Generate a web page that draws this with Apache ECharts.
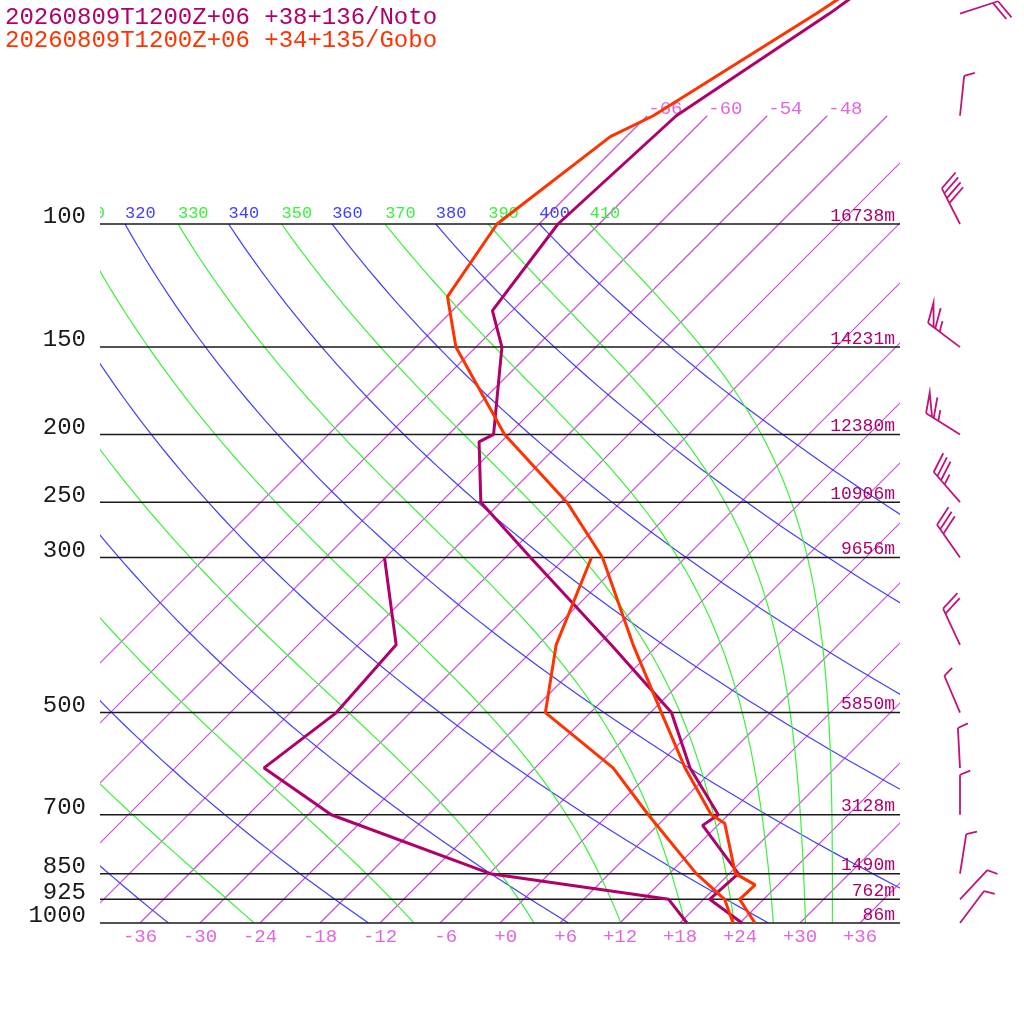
<!DOCTYPE html>
<html>
<head>
<meta charset="utf-8">
<title>Skew-T</title>
<script src="https://cdn.jsdelivr.net/npm/echarts@6.0.0/dist/echarts.min.js"></script>
<style>
html, body { margin: 0; padding: 0; background: #fff; }
#chart { width: 1024px; height: 1024px; }
</style>
</head>
<body>
<div id="chart"></div>
<script>
// Noto (+38+136): temperature and dew point (hPa, degC)
var notoP  = [1000, 925, 850, 725, 700, 600, 500, 400, 300, 250, 205, 200, 150, 133, 100, 70, 50, 30];
var notoT  = [24.2, 18.6, 18.9, 10.5, 11.0, 3.5, -3.9, -16.7, -33.5, -44.0, -50.2, -49.5, -57.4, -62.0, -64.1, -63.1, -58.0, -52.0];
var notoDP = [1000, 925, 850, 700, 600, 500, 400, 300];
var notoTd = [18.7, 14.5, -5.9, -27.7, -39.1, -37.4, -38.2, -48.1];

// Gobo (+34+135)
var goboP  = [1000, 925, 882, 850, 720, 700, 600, 500, 400, 300, 250, 200, 150, 127, 100, 75, 70, 50, 30];
var goboT  = [25.5, 21.6, 21.7, 18.6, 12.5, 10.3, 3.0, -4.9, -14.5, -26.3, -35.4, -48.4, -62.0, -67.9, -70.2, -67.6, -65.4, -59.3, -51.5];
var goboDP = [1000, 925, 850, 700, 600, 500, 400, 300];
var goboTd = [23.3, 20.1, 14.7, 4.0, -4.2, -16.5, -22.2, -27.4];

// Noto winds: direction (deg), speed (kt)
var windP   = [50, 70, 100, 150, 200, 250, 300, 400, 500, 600, 700, 850, 925, 1000];
var windDir = [72, 6, 333, 307, 302, 319, 325, 335, 337, 357, 0, 9, 43, 37];
var windSpd = [20, 5, 40, 65, 65, 35, 30, 20, 5, 5, 5, 5, 5, 5];

// isobars and heights
var isobars = [100, 150, 200, 250, 300, 500, 700, 850, 925, 1000];
var heights = ['16738m', '14231m', '12380m', '10906m', '9656m', '5850m', '3128m', '1490m', '762m', '86m'];

// background lines
var isotherms = [-66, -60, -54, -48, -42, -36, -30, -24, -18, -12, -6, 0, 6, 12, 18, 24, 30, 36];
var isothermLabels = [-66, -60, -54, -48];
var dryThetas = [220, 240, 260, 280, 300, 320, 340, 360, 380, 400];
var moistThetas = [250, 270, 290, 310, 330, 350, 370, 390, 410];
var tempTicks = [-36, -30, -24, -18, -12, -6, 0, 6, 12, 18, 24, 30, 36];

var notoColor = '#b0006a';
var goboColor = '#ff3300';
var mono = '"Liberation Mono", monospace';

var skew = 69.9;
function skewX(t, p) { return t + skew * Math.log10(1000 / p); }

function thetaE(tk, p) {
    var tc = tk - 273.15;
    var es = 6.112 * Math.exp(17.67 * tc / (tc + 243.5));
    if (es > 0.5 * p) return 1e9;
    var r = 622 * es / (p - es);
    return tk * Math.pow(1000 / p, 0.2854 * (1 - 0.00028 * r)) *
        Math.exp((3.376 / tk - 0.00254) * r * (1 + 0.00081 * r));
}
function moistT(te, p) {
    var lo = 80, hi = 340;
    for (var i = 0; i < 50; i++) {
        var mid = (lo + hi) / 2;
        if (thetaE(mid, p) > te) hi = mid; else lo = mid;
    }
    return (lo + hi) / 2 - 273.15;
}

// pressure samples between 1000 and 100 hPa
var levels = [];
for (var i = 0; i <= 60; i++) levels.push(1000 * Math.pow(0.1, i / 60));

function profile(ps, ts) {
    return ps.map(function (p, i) { return [skewX(ts[i], p), p]; });
}

function adiabatItem(api, temps, color) {
    var pts = levels.map(function (p, i) { return api.coord([skewX(temps[i], p), p]); });
    var start = pts[pts.length - 1];
    return {
        type: 'group',
        children: [
            { type: 'polyline', shape: { points: pts }, style: { stroke: color, lineWidth: 1.2, fill: null } },
            { type: 'text', x: start[0], y: start[1] - 11,
              style: { text: String(api.value(2)), fill: color, font: '17px ' + mono, align: 'left', verticalAlign: 'middle' } }
        ]
    };
}

function barb(api) {
    var p = api.value(1), dir = api.value(2), spd = api.value(3);
    var base = api.coord([46, p]);
    var rad = dir * Math.PI / 180;
    var ux = Math.sin(rad), uy = -Math.cos(rad);
    var a = 68 * Math.PI / 180;
    var bx = ux * Math.cos(a) - uy * Math.sin(a);
    var by = ux * Math.sin(a) + uy * Math.cos(a);
    var L = 40, full = 21, half = 11, gap = 5.5, flagW = 7;
    function at(d) { return [base[0] + ux * d, base[1] + uy * d]; }
    function out(pt, len) { return [pt[0] + bx * len, pt[1] + by * len]; }
    var style = { stroke: '#c0147a', lineWidth: 1.8, fill: null };
    var kids = [{ type: 'polyline', shape: { points: [base, at(L)] }, style: style }];
    var n50 = Math.floor(spd / 50);
    var n10 = Math.floor((spd - 50 * n50) / 10);
    var n5 = Math.round((spd - 50 * n50 - 10 * n10) / 5);
    var s = L, k;
    for (k = 0; k < n50; k++) {
        kids.push({ type: 'polyline', shape: { points: [at(s), out(at(s), full), at(s - flagW)] }, style: style });
        s -= flagW + 2;
    }
    for (k = 0; k < n10; k++) {
        kids.push({ type: 'polyline', shape: { points: [at(s), out(at(s), full)] }, style: style });
        s -= gap;
    }
    for (k = 0; k < n5; k++) {
        kids.push({ type: 'polyline', shape: { points: [at(s), out(at(s), half)] }, style: style });
        s -= gap;
    }
    return { type: 'group', children: kids };
}

var myChart = echarts.init(document.getElementById('chart'));

var option = {
    animation: false,
    backgroundColor: '#fff',
    title: [
        { text: '20260809T1200Z+06 +38+136/Noto', left: 5, top: 6, padding: 0,
          textStyle: { color: notoColor, fontFamily: mono, fontSize: 24, fontWeight: 'normal' } },
        { text: '20260809T1200Z+06 +34+135/Gobo', left: 5, top: 29, padding: 0,
          textStyle: { color: goboColor, fontFamily: mono, fontSize: 24, fontWeight: 'normal' } }
    ],
    grid: { left: 100, right: 124, top: 0, bottom: 101 },
    xAxis: {
        type: 'value', min: -40, max: 40,
        axisLine: { show: false }, axisTick: { show: false }, splitLine: { show: false },
        axisLabel: {
            customValues: tempTicks,
            margin: 4,
            color: '#e066e0', fontFamily: mono, fontSize: 19,
            formatter: function (v) {
                var s = v > 0 ? '+' + v : (v === 0 ? '+0' : String(v));
                while (s.length < 3) s = ' ' + s;
                return s;
            }
        }
    },
    yAxis: {
        type: 'log', inverse: true, min: 47.81, max: 1000, show: false
    },
    series: [
        {
            // isotherms
            type: 'custom', clip: true, z: 1,
            data: isotherms.map(function (t) { return [t, 1000, t]; }),
            renderItem: function (params, api) {
                var t = api.value(2);
                var a = api.coord([skewX(t, 1000), 1000]);
                var b = api.coord([skewX(t, 70), 70]);
                var kids = [{ type: 'polyline', shape: { points: [a, b] }, style: { stroke: '#d044e6', lineWidth: 1.2, fill: null } }];
                if (isothermLabels.indexOf(t) >= 0) {
                    kids.push({ type: 'text', x: b[0] + 1, y: b[1] - 7,
                        style: { text: String(t), fill: '#e066e0', font: '19px ' + mono, align: 'left', verticalAlign: 'middle' } });
                }
                return { type: 'group', children: kids };
            }
        },
        {
            // dry adiabats
            type: 'custom', clip: true, z: 2,
            data: dryThetas.map(function (th) { return [0, 1000, th]; }),
            renderItem: function (params, api) {
                var th = api.value(2);
                var temps = levels.map(function (p) { return th * Math.pow(p / 1000, 0.2857) - 273.15; });
                return adiabatItem(api, temps, '#3f3fff');
            }
        },
        {
            // moist adiabats
            type: 'custom', clip: true, z: 2,
            data: moistThetas.map(function (th) { return [0, 1000, th]; }),
            renderItem: function (params, api) {
                var th = api.value(2);
                var temps = levels.map(function (p) { return moistT(th, p); });
                return adiabatItem(api, temps, '#3cf03c');
            }
        },
        {
            // isobars, pressure labels, heights
            type: 'custom', clip: false, z: 3,
            data: isobars.map(function (p, i) { return [0, p, i]; }),
            renderItem: function (params, api) {
                var p = api.value(1);
                var a = api.coord([-40, p]);
                var b = api.coord([40, p]);
                return {
                    type: 'group',
                    children: [
                        { type: 'polyline', shape: { points: [a, b] }, style: { stroke: '#1a1a1a', lineWidth: 1.5, fill: null } },
                        { type: 'text', x: 86, y: a[1] - 7,
                          style: { text: String(p), fill: '#1a1a1a', font: '24px ' + mono, align: 'right', verticalAlign: 'middle' } },
                        { type: 'text', x: 895, y: a[1] - 8,
                          style: { text: heights[params.dataIndex], fill: notoColor, font: '18px ' + mono, align: 'right', verticalAlign: 'middle' } }
                    ]
                };
            }
        },
        {
            name: 'Noto dew point', type: 'line', z: 10, symbol: 'none',
            lineStyle: { color: notoColor, width: 3 },
            data: profile(notoDP, notoTd)
        },
        {
            name: 'Noto temperature', type: 'line', z: 10, symbol: 'none',
            lineStyle: { color: notoColor, width: 3 },
            data: profile(notoP, notoT)
        },
        {
            name: 'Gobo dew point', type: 'line', z: 11, symbol: 'none',
            lineStyle: { color: goboColor, width: 3 },
            data: profile(goboDP, goboTd)
        },
        {
            name: 'Gobo temperature', type: 'line', z: 11, symbol: 'none',
            lineStyle: { color: goboColor, width: 3 },
            data: profile(goboP, goboT)
        },
        {
            // wind barbs
            type: 'custom', clip: false, z: 12,
            data: windP.map(function (p, i) { return [46, p, windDir[i], windSpd[i]]; }),
            renderItem: function (params, api) { return barb(api); }
        }
    ]
};

myChart.setOption(option);

window.addEventListener('resize', function () {
    myChart.resize();
});
</script>
</body>
</html>
